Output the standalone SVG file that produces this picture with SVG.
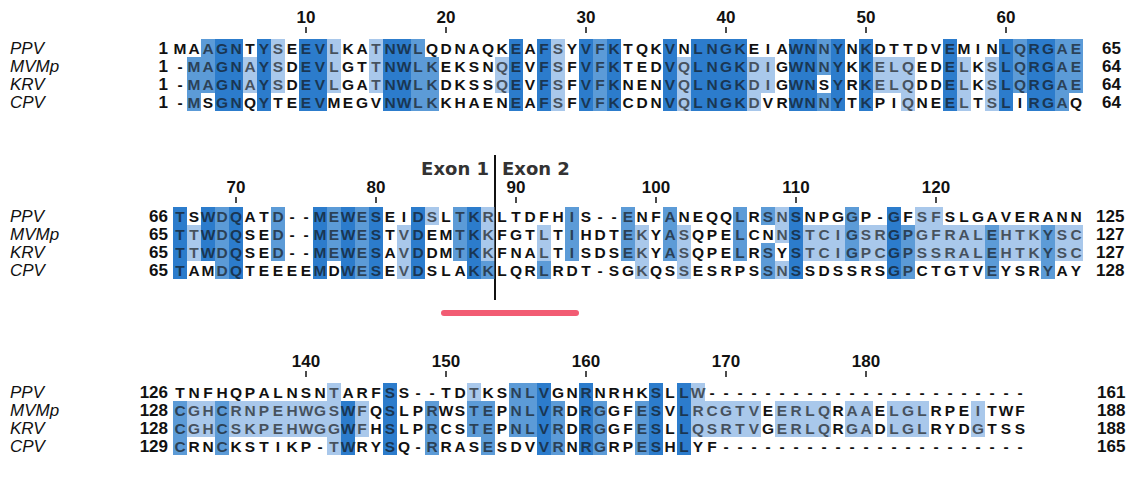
<svg xmlns="http://www.w3.org/2000/svg" xmlns:xlink="http://www.w3.org/1999/xlink" width="1131" height="482" viewBox="0 0 1131 482">
<style>
.seq{font-family:"Liberation Sans",Arial,sans-serif;font-size:15.5px;font-weight:bold;text-anchor:middle;fill:#111}
.lab{font-family:"Liberation Sans",Arial,sans-serif;font-size:17px;font-style:italic;fill:#111}
.num{font-family:"Liberation Sans",Arial,sans-serif;font-size:17px;font-weight:bold;fill:#111}
.end{text-anchor:end}
.mid{text-anchor:middle}
.c1{fill:#a9c8ec}.c2{fill:#5d9bd8}.c3{fill:#2d7dcc}
.cells rect{height:18px}
.tick{stroke:#111;stroke-width:1.5;fill:none}
.exon{font-family:"DejaVu Sans",sans-serif;font-size:18px;font-weight:bold;fill:#333}
</style>

<!-- shaded alignment cells: 14px columns, 18px rows -->
<g id="cells" class="cells">
 <g id="cells-b1-ppv" transform="translate(0 39)">
  <rect class="c2" x="201" width="14"/><rect class="c3" x="215" width="28"/><rect class="c3" x="257" width="14"/><rect class="c1" x="271" width="14"/><rect class="c3" x="299" width="28"/><rect class="c1" x="327" width="14"/><rect class="c1" x="369" width="14"/><rect class="c3" x="383" width="28"/><rect class="c2" x="411" width="14"/><rect class="c3" x="509" width="14"/><rect class="c3" x="537" width="14"/><rect class="c1" x="551" width="14"/><rect class="c3" x="579" width="14"/><rect class="c2" x="593" width="14"/><rect class="c3" x="607" width="14"/><rect class="c3" x="663" width="14"/><rect class="c3" x="691" width="56"/><rect class="c3" x="789" width="28"/><rect class="c2" x="817" width="14"/><rect class="c3" x="831" width="14"/><rect class="c3" x="859" width="14"/><rect class="c3" x="943" width="14"/><rect class="c3" x="999" width="14"/><rect class="c2" x="1013" width="14"/><rect class="c3" x="1027" width="28"/><rect class="c2" x="1055" width="28"/>
 </g>
 <g id="cells-b1-mvmp" transform="translate(0 57)">
  <rect class="c2" x="187" width="28"/><rect class="c3" x="215" width="28"/><rect class="c1" x="243" width="14"/><rect class="c3" x="257" width="14"/><rect class="c1" x="271" width="14"/><rect class="c3" x="299" width="28"/><rect class="c1" x="327" width="14"/><rect class="c1" x="369" width="14"/><rect class="c3" x="383" width="28"/><rect class="c2" x="411" width="28"/><rect class="c1" x="495" width="14"/><rect class="c3" x="509" width="14"/><rect class="c3" x="537" width="14"/><rect class="c1" x="551" width="14"/><rect class="c3" x="579" width="14"/><rect class="c2" x="593" width="14"/><rect class="c3" x="607" width="14"/><rect class="c3" x="663" width="14"/><rect class="c1" x="677" width="14"/><rect class="c3" x="691" width="56"/><rect class="c1" x="747" width="28"/><rect class="c3" x="789" width="28"/><rect class="c2" x="817" width="14"/><rect class="c3" x="831" width="14"/><rect class="c3" x="859" width="14"/><rect class="c1" x="873" width="42"/><rect class="c3" x="943" width="14"/><rect class="c1" x="957" width="14"/><rect class="c1" x="985" width="14"/><rect class="c3" x="999" width="14"/><rect class="c2" x="1013" width="14"/><rect class="c3" x="1027" width="28"/><rect class="c2" x="1055" width="28"/>
 </g>
 <g id="cells-b1-krv" transform="translate(0 75)">
  <rect class="c2" x="187" width="28"/><rect class="c3" x="215" width="28"/><rect class="c1" x="243" width="14"/><rect class="c3" x="257" width="14"/><rect class="c1" x="271" width="14"/><rect class="c3" x="299" width="28"/><rect class="c1" x="327" width="14"/><rect class="c1" x="369" width="14"/><rect class="c3" x="383" width="28"/><rect class="c2" x="411" width="28"/><rect class="c1" x="495" width="14"/><rect class="c3" x="509" width="14"/><rect class="c3" x="537" width="14"/><rect class="c1" x="551" width="14"/><rect class="c3" x="579" width="14"/><rect class="c2" x="593" width="14"/><rect class="c3" x="607" width="14"/><rect class="c3" x="663" width="14"/><rect class="c1" x="677" width="14"/><rect class="c3" x="691" width="56"/><rect class="c1" x="747" width="28"/><rect class="c3" x="789" width="28"/><rect class="c3" x="831" width="14"/><rect class="c3" x="859" width="14"/><rect class="c1" x="873" width="42"/><rect class="c3" x="943" width="14"/><rect class="c1" x="957" width="14"/><rect class="c1" x="985" width="14"/><rect class="c3" x="999" width="14"/><rect class="c2" x="1013" width="14"/><rect class="c3" x="1027" width="28"/><rect class="c2" x="1055" width="28"/>
 </g>
 <g id="cells-b1-cpv" transform="translate(0 93)">
  <rect class="c2" x="187" width="14"/><rect class="c3" x="215" width="28"/><rect class="c3" x="257" width="14"/><rect class="c3" x="299" width="28"/><rect class="c3" x="383" width="28"/><rect class="c2" x="411" width="28"/><rect class="c3" x="509" width="14"/><rect class="c3" x="537" width="14"/><rect class="c1" x="551" width="14"/><rect class="c3" x="579" width="14"/><rect class="c2" x="593" width="14"/><rect class="c3" x="607" width="14"/><rect class="c3" x="663" width="14"/><rect class="c1" x="677" width="14"/><rect class="c3" x="691" width="56"/><rect class="c1" x="747" width="14"/><rect class="c3" x="789" width="28"/><rect class="c2" x="817" width="14"/><rect class="c3" x="831" width="14"/><rect class="c3" x="859" width="14"/><rect class="c1" x="901" width="14"/><rect class="c3" x="943" width="14"/><rect class="c1" x="957" width="14"/><rect class="c1" x="985" width="14"/><rect class="c3" x="999" width="14"/><rect class="c3" x="1027" width="28"/><rect class="c2" x="1055" width="14"/>
 </g>

 <g id="cells-b2-ppv" transform="translate(0 207)">
  <rect class="c3" x="173" width="14"/><rect class="c3" x="201" width="14"/><rect class="c2" x="215" width="14"/><rect class="c3" x="229" width="14"/><rect class="c2" x="271" width="14"/><rect class="c3" x="313" width="14"/><rect class="c2" x="327" width="14"/><rect class="c3" x="341" width="14"/><rect class="c2" x="355" width="14"/><rect class="c3" x="369" width="14"/><rect class="c3" x="411" width="14"/><rect class="c1" x="425" width="14"/><rect class="c2" x="453" width="14"/><rect class="c3" x="467" width="14"/><rect class="c1" x="481" width="14"/><rect class="c2" x="565" width="14"/><rect class="c2" x="621" width="14"/><rect class="c2" x="663" width="14"/><rect class="c2" x="733" width="14"/><rect class="c2" x="761" width="14"/><rect class="c1" x="775" width="14"/><rect class="c3" x="789" width="14"/><rect class="c2" x="845" width="14"/><rect class="c3" x="887" width="14"/><rect class="c1" x="915" width="28"/>
 </g>
 <g id="cells-b2-mvmp" transform="translate(0 225)">
  <rect class="c3" x="173" width="14"/><rect class="c1" x="187" width="14"/><rect class="c3" x="201" width="14"/><rect class="c2" x="215" width="14"/><rect class="c3" x="229" width="14"/><rect class="c2" x="271" width="14"/><rect class="c3" x="313" width="14"/><rect class="c2" x="327" width="14"/><rect class="c3" x="341" width="14"/><rect class="c2" x="355" width="14"/><rect class="c3" x="369" width="14"/><rect class="c1" x="397" width="14"/><rect class="c3" x="411" width="14"/><rect class="c2" x="453" width="14"/><rect class="c3" x="467" width="14"/><rect class="c1" x="481" width="14"/><rect class="c1" x="537" width="14"/><rect class="c2" x="565" width="14"/><rect class="c2" x="621" width="14"/><rect class="c1" x="635" width="14"/><rect class="c2" x="663" width="14"/><rect class="c1" x="677" width="14"/><rect class="c2" x="733" width="14"/><rect class="c1" x="775" width="14"/><rect class="c3" x="789" width="14"/><rect class="c1" x="803" width="42"/><rect class="c2" x="845" width="14"/><rect class="c1" x="859" width="28"/><rect class="c3" x="887" width="14"/><rect class="c2" x="901" width="14"/><rect class="c1" x="915" width="70"/><rect class="c2" x="985" width="14"/><rect class="c1" x="999" width="42"/><rect class="c2" x="1041" width="14"/><rect class="c1" x="1055" width="28"/>
 </g>
 <g id="cells-b2-krv" transform="translate(0 243)">
  <rect class="c3" x="173" width="14"/><rect class="c1" x="187" width="14"/><rect class="c3" x="201" width="14"/><rect class="c2" x="215" width="14"/><rect class="c3" x="229" width="14"/><rect class="c2" x="271" width="14"/><rect class="c3" x="313" width="14"/><rect class="c2" x="327" width="14"/><rect class="c3" x="341" width="14"/><rect class="c2" x="355" width="14"/><rect class="c3" x="369" width="14"/><rect class="c1" x="397" width="14"/><rect class="c3" x="411" width="14"/><rect class="c2" x="453" width="14"/><rect class="c3" x="467" width="14"/><rect class="c1" x="481" width="14"/><rect class="c1" x="537" width="14"/><rect class="c2" x="565" width="14"/><rect class="c2" x="621" width="14"/><rect class="c1" x="635" width="14"/><rect class="c2" x="663" width="14"/><rect class="c1" x="677" width="14"/><rect class="c2" x="733" width="14"/><rect class="c2" x="761" width="14"/><rect class="c3" x="789" width="14"/><rect class="c1" x="803" width="42"/><rect class="c2" x="845" width="14"/><rect class="c1" x="859" width="28"/><rect class="c3" x="887" width="14"/><rect class="c2" x="901" width="14"/><rect class="c1" x="915" width="70"/><rect class="c2" x="985" width="14"/><rect class="c1" x="999" width="42"/><rect class="c2" x="1041" width="14"/><rect class="c1" x="1055" width="28"/>
 </g>
 <g id="cells-b2-cpv" transform="translate(0 261)">
  <rect class="c3" x="173" width="14"/><rect class="c2" x="215" width="14"/><rect class="c3" x="229" width="14"/><rect class="c3" x="313" width="14"/><rect class="c3" x="341" width="14"/><rect class="c2" x="355" width="14"/><rect class="c3" x="369" width="14"/><rect class="c1" x="397" width="14"/><rect class="c3" x="411" width="14"/><rect class="c3" x="467" width="14"/><rect class="c2" x="481" width="14"/><rect class="c2" x="537" width="14"/><rect class="c1" x="635" width="14"/><rect class="c1" x="677" width="14"/><rect class="c2" x="761" width="14"/><rect class="c1" x="775" width="14"/><rect class="c3" x="789" width="14"/><rect class="c3" x="887" width="14"/><rect class="c2" x="901" width="14"/><rect class="c2" x="985" width="14"/><rect class="c2" x="1041" width="14"/>
 </g>

 <g id="cells-b3-ppv" transform="translate(0 383)">
  <rect class="c1" x="327" width="14"/><rect class="c3" x="383" width="14"/><rect class="c1" x="467" width="14"/><rect class="c2" x="509" width="28"/><rect class="c3" x="537" width="14"/><rect class="c3" x="579" width="14"/><rect class="c3" x="649" width="14"/><rect class="c3" x="677" width="14"/><rect class="c1" x="691" width="14"/>
 </g>
 <g id="cells-b3-mvmp" transform="translate(0 401)">
  <rect class="c2" x="173" width="14"/><rect class="c1" x="187" width="28"/><rect class="c2" x="215" width="14"/><rect class="c1" x="229" width="112"/><rect class="c3" x="341" width="14"/><rect class="c1" x="355" width="14"/><rect class="c3" x="383" width="14"/><rect class="c2" x="425" width="14"/><rect class="c2" x="467" width="28"/><rect class="c2" x="509" width="28"/><rect class="c3" x="537" width="14"/><rect class="c2" x="551" width="14"/><rect class="c3" x="579" width="14"/><rect class="c2" x="593" width="14"/><rect class="c2" x="635" width="14"/><rect class="c3" x="649" width="14"/><rect class="c3" x="677" width="14"/><rect class="c1" x="691" width="70"/><rect class="c1" x="775" width="56"/><rect class="c1" x="845" width="28"/><rect class="c1" x="887" width="42"/><rect class="c1" x="971" width="14"/>
 </g>
 <g id="cells-b3-krv" transform="translate(0 419)">
  <rect class="c2" x="173" width="14"/><rect class="c1" x="187" width="28"/><rect class="c2" x="215" width="14"/><rect class="c1" x="229" width="112"/><rect class="c3" x="341" width="14"/><rect class="c1" x="355" width="14"/><rect class="c3" x="383" width="14"/><rect class="c2" x="425" width="14"/><rect class="c2" x="467" width="28"/><rect class="c2" x="509" width="28"/><rect class="c3" x="537" width="14"/><rect class="c2" x="551" width="14"/><rect class="c3" x="579" width="14"/><rect class="c2" x="593" width="14"/><rect class="c2" x="635" width="14"/><rect class="c3" x="649" width="14"/><rect class="c3" x="677" width="14"/><rect class="c1" x="691" width="70"/><rect class="c1" x="775" width="56"/><rect class="c1" x="845" width="28"/><rect class="c1" x="887" width="42"/><rect class="c1" x="971" width="14"/>
 </g>
 <g id="cells-b3-cpv" transform="translate(0 437)">
  <rect class="c2" x="173" width="14"/><rect class="c2" x="215" width="14"/><rect class="c1" x="327" width="14"/><rect class="c3" x="341" width="14"/><rect class="c3" x="383" width="14"/><rect class="c2" x="425" width="14"/><rect class="c2" x="481" width="14"/><rect class="c3" x="537" width="14"/><rect class="c2" x="551" width="14"/><rect class="c3" x="579" width="14"/><rect class="c2" x="593" width="14"/><rect class="c2" x="635" width="14"/><rect class="c3" x="649" width="14"/><rect class="c3" x="677" width="14"/>
 </g>
</g>

<!-- block 1: columns 1-65 -->
<g id="block1">
 <g id="ruler1" class="num mid">
  <text x="306" y="23">10</text><text x="446" y="23">20</text><text x="586" y="23">30</text><text x="726" y="23">40</text><text x="866" y="23">50</text><text x="1006" y="23">60</text>
  <path class="tick" d="M306 27v6M446 27v6M586 27v6M726 27v6M866 27v6M1006 27v6"/>
 </g>
 <g id="names1" class="lab"><text x="10" y="54">PPV</text><text x="10" y="72">MVMp</text><text x="10" y="90">KRV</text><text x="10" y="108">CPV</text></g>
 <g id="start1" class="num end"><text x="168" y="54">1</text><text x="168" y="72">1</text><text x="168" y="90">1</text><text x="168" y="108">1</text></g>
 <g id="seq1" class="seq">
  <text y="53.5" x="180 194 208 222 236 250 264 278 292 306 320 334 348 362 376 390 404 418 432 446 460 474 488 502 516 530 544 558 572 586 600 614 628 642 656 670 684 698 712 726 740 754 768 782 796 810 824 838 852 866 880 894 908 922 936 950 964 978 992 1006 1020 1034 1048 1062 1076">MAAGNTYSEEVLKATNWLQDNAQKEAFSYVFKTQKVNLNGKEIAWNNYNKDTTDVEMINLQRGAE</text>
  <text y="71.5" x="180 194 208 222 236 250 264 278 292 306 320 334 348 362 376 390 404 418 432 446 460 474 488 502 516 530 544 558 572 586 600 614 628 642 656 670 684 698 712 726 740 754 768 782 796 810 824 838 852 866 880 894 908 922 936 950 964 978 992 1006 1020 1034 1048 1062 1076">-MAGNAYSDEVLGTTNWLKEKSNQEVFSFVFKTEDVQLNGKDIGWNNYKKELQEDELKSLQRGAE</text>
  <text y="89.5" x="180 194 208 222 236 250 264 278 292 306 320 334 348 362 376 390 404 418 432 446 460 474 488 502 516 530 544 558 572 586 600 614 628 642 656 670 684 698 712 726 740 754 768 782 796 810 824 838 852 866 880 894 908 922 936 950 964 978 992 1006 1020 1034 1048 1062 1076">-MAGNAYSDEVLGATNWLKDKSSQEVFSFVFKNENVQLNGKDIGWNSYRKELQDDELKSLQRGAE</text>
  <text y="107.5" x="180 194 208 222 236 250 264 278 292 306 320 334 348 362 376 390 404 418 432 446 460 474 488 502 516 530 544 558 572 586 600 614 628 642 656 670 684 698 712 726 740 754 768 782 796 810 824 838 852 866 880 894 908 922 936 950 964 978 992 1006 1020 1034 1048 1062 1076">-MSGNQYTEEVMEGVNWLKKHAENEAFSFVFKCDNVQLNGKDVRWNNYTKPIQNEELTSLIRGAQ</text>
 </g>
 <g id="end1" class="num"><text x="1102" y="54">65</text><text x="1102" y="72">64</text><text x="1102" y="90">64</text><text x="1102" y="108">64</text></g>
</g>

<!-- block 2: columns 66-130 -->
<g id="block2">
 <g id="ruler2" class="num mid">
  <text x="236" y="193">70</text><text x="376" y="193">80</text><text x="516" y="193">90</text><text x="656" y="193">100</text><text x="796" y="193">110</text><text x="936" y="193">120</text>
  <path class="tick" d="M236 197v6M376 197v6M516 197v6M656 197v6M796 197v6M936 197v6"/>
 </g>
 <g id="names2" class="lab"><text x="10" y="222">PPV</text><text x="10" y="240">MVMp</text><text x="10" y="258">KRV</text><text x="10" y="276">CPV</text></g>
 <g id="start2" class="num end"><text x="168" y="222">66</text><text x="168" y="240">65</text><text x="168" y="258">65</text><text x="168" y="276">65</text></g>
 <g id="seq2" class="seq">
  <text y="221.5" x="180 194 208 222 236 250 264 278 292 306 320 334 348 362 376 390 404 418 432 446 460 474 488 502 516 530 544 558 572 586 600 614 628 642 656 670 684 698 712 726 740 754 768 782 796 810 824 838 852 866 880 894 908 922 936 950 964 978 992 1006 1020 1034 1048 1062 1076">TSWDQATD--MEWESEIDSLTKRLTDFHIS--ENFANEQQLRSNSNPGGP-GFSFSLGAVERANN</text>
  <text y="239.5" x="180 194 208 222 236 250 264 278 292 306 320 334 348 362 376 390 404 418 432 446 460 474 488 502 516 530 544 558 572 586 600 614 628 642 656 670 684 698 712 726 740 754 768 782 796 810 824 838 852 866 880 894 908 922 936 950 964 978 992 1006 1020 1034 1048 1062 1076">TTWDQSED--MEWESTVDEMTKKFGTLTIHDTEKYASQPELCNNSTCIGSRGPGFRALEHTKYSC</text>
  <text y="257.5" x="180 194 208 222 236 250 264 278 292 306 320 334 348 362 376 390 404 418 432 446 460 474 488 502 516 530 544 558 572 586 600 614 628 642 656 670 684 698 712 726 740 754 768 782 796 810 824 838 852 866 880 894 908 922 936 950 964 978 992 1006 1020 1034 1048 1062 1076">TTWDQSED--MEWESAVDDMTKKFNALTISDSEKYASQPELRSYSTCIGPCGPSSRALEHTKYSC</text>
  <text y="275.5" x="180 194 208 222 236 250 264 278 292 306 320 334 348 362 376 390 404 418 432 446 460 474 488 502 516 530 544 558 572 586 600 614 628 642 656 670 684 698 712 726 740 754 768 782 796 810 824 838 852 866 880 894 908 922 936 950 964 978 992 1006 1020 1034 1048 1062 1076">TAMDQTEEEEMDWESEVDSLAKKLQRLRDT-SGKQSSESRPSSNSSDSSRSGPCTGTVEYSRYAY</text>
 </g>
 <g id="end2" class="num"><text x="1096" y="222">125</text><text x="1096" y="240">127</text><text x="1096" y="258">127</text><text x="1096" y="276">128</text></g>
</g>

<!-- exon boundary marker and highlighted stretch -->
<g id="exon-boundary">
 <text class="exon" x="489" y="175" text-anchor="end">Exon 1</text>
 <text class="exon" x="502" y="175">Exon 2</text>
 <line x1="495" y1="155" x2="495" y2="300" stroke="#111" stroke-width="2"/>
 <line x1="444" y1="313" x2="576" y2="313" stroke="#f25c73" stroke-width="6" stroke-linecap="round"/>
</g>

<!-- block 3: columns 131-191 -->
<g id="block3">
 <g id="ruler3" class="num mid">
  <text x="306" y="367">140</text><text x="446" y="367">150</text><text x="586" y="367">160</text><text x="726" y="367">170</text><text x="866" y="367">180</text>
  <path class="tick" d="M306 371v6M446 371v6M586 371v6M726 371v6M866 371v6"/>
 </g>
 <g id="names3" class="lab"><text x="10" y="398">PPV</text><text x="10" y="416">MVMp</text><text x="10" y="434">KRV</text><text x="10" y="452">CPV</text></g>
 <g id="start3" class="num end"><text x="168" y="398">126</text><text x="168" y="416">128</text><text x="168" y="434">128</text><text x="168" y="452">129</text></g>
 <g id="seq3" class="seq">
  <text y="397.5" x="180 194 208 222 236 250 264 278 292 306 320 334 348 362 376 390 404 418 432 446 460 474 488 502 516 530 544 558 572 586 600 614 628 642 656 670 684 698 712 726 740 754 768 782 796 810 824 838 852 866 880 894 908 922 936 950 964 978 992 1006 1020">TNFHQPALNSNTARFSS--TDTKSNLVGNRNRHKSLLW-----------------------</text>
  <text y="415.5" x="180 194 208 222 236 250 264 278 292 306 320 334 348 362 376 390 404 418 432 446 460 474 488 502 516 530 544 558 572 586 600 614 628 642 656 670 684 698 712 726 740 754 768 782 796 810 824 838 852 866 880 894 908 922 936 950 964 978 992 1006 1020">CGHCRNPEHWGSWFQSLPRWSTEPNLVRDRGGFESVLRCGTVEERLQRAAELGLRPEITWF</text>
  <text y="433.5" x="180 194 208 222 236 250 264 278 292 306 320 334 348 362 376 390 404 418 432 446 460 474 488 502 516 530 544 558 572 586 600 614 628 642 656 670 684 698 712 726 740 754 768 782 796 810 824 838 852 866 880 894 908 922 936 950 964 978 992 1006 1020">CGHCSKPEHWGGWFHSLPRCSTEPNLVRDRGGFESLLQSRTVGERLQRGADLGLRYDGTSS</text>
  <text y="451.5" x="180 194 208 222 236 250 264 278 292 306 320 334 348 362 376 390 404 418 432 446 460 474 488 502 516 530 544 558 572 586 600 614 628 642 656 670 684 698 712 726 740 754 768 782 796 810 824 838 852 866 880 894 908 922 936 950 964 978 992 1006 1020">CRNCKSTIKP-TWRYSQ-RRASESDVVRNRGRPESHLYF----------------------</text>
 </g>
 <g id="end3" class="num"><text x="1097" y="398">161</text><text x="1097" y="416">188</text><text x="1097" y="434">188</text><text x="1097" y="452">165</text></g>
</g>

<!-- translucent second pass of the shading tints the residue letters -->
<use href="#cells" xlink:href="#cells" opacity="0.35"/>
</svg>
